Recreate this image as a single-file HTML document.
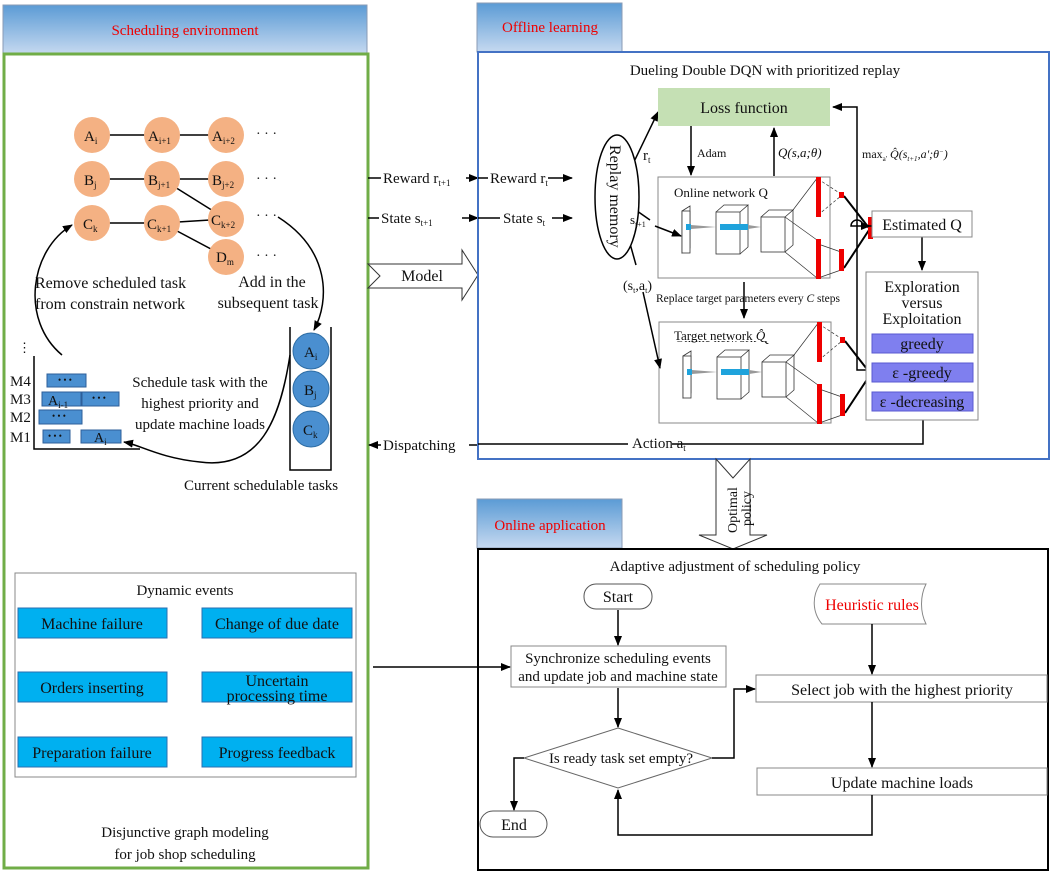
<!DOCTYPE html>
<html><head><meta charset="utf-8"><style>
body{margin:0;background:#fff}
svg text{font-family:"Liberation Serif",serif;fill:#111}
</style></head><body>
<svg width="1058" height="875" viewBox="0 0 1058 875" xmlns="http://www.w3.org/2000/svg">
<defs>
<linearGradient id="hg" x1="0" y1="0" x2="0" y2="1"><stop offset="0" stop-color="#5b9bd5"/><stop offset="1" stop-color="#c6d9f0"/></linearGradient>
<marker id="ar" markerWidth="10" markerHeight="8" refX="9" refY="4" orient="auto" markerUnits="userSpaceOnUse"><path d="M0,0 L10,4 L0,8 z" fill="#000"/></marker>
<g id="net">
<rect x="0" y="0" width="172" height="101" fill="#fff" stroke="#888"/>
<text x="16" y="20" font-size="13">Online network Q</text>
<path d="M24,34 l8,-5 v42 l-8,5 z" fill="#fff" stroke="#333" stroke-width="0.8"/><rect x="24" y="34" width="8" height="42" fill="#fff" stroke="#333" stroke-width="0.8"/>
<rect x="58" y="35" width="24" height="42" fill="#fff" stroke="#333" stroke-width="0.8"/><path d="M58,35 l8,-7 h24 l-8,7 M82,77 l8,-7 v-42" fill="none" stroke="#333" stroke-width="0.8"/>
<rect x="103" y="40" width="24" height="35" fill="#fff" stroke="#333" stroke-width="0.8"/><path d="M103,40 l8,-7 h24 l-8,7 M127,75 l8,-7 v-35" fill="none" stroke="#333" stroke-width="0.8"/>
<rect x="28" y="47" width="5" height="6" fill="#1fa3dc"/><path d="M33,48 L58,50 L33,52z" fill="#999"/>
<rect x="62" y="47" width="28" height="6" fill="#1fa3dc"/><path d="M90,48 L103,50 L90,52z" fill="#999"/>
<path d="M135,33 L160,0 M127,40 L159,63 M127,75 L159,101" stroke="#333" stroke-width="0.7" fill="none"/>
<path d="M160,2 L183,17 M160,38 L183,19" stroke="#333" stroke-width="0.7" stroke-dasharray="3,2" fill="none"/>
<path d="M163,68 L183,75 M163,100 L183,93" stroke="#333" stroke-width="0.7" fill="none"/>
<path d="M186,19 L211,51 M186,91 L211,53" stroke="#000" stroke-width="2" fill="none"/>
<rect x="158" y="0" width="5" height="40" fill="#e00"/><rect x="158" y="62" width="5" height="40" fill="#e00"/>
<rect x="181" y="15" width="5" height="6" fill="#e00"/><rect x="181" y="72" width="5" height="22" fill="#e00"/>
<rect x="210" y="40" width="5" height="22" fill="#e00"/>
</g>
</defs>

<!-- LEFT -->
<rect x="3" y="5" width="364" height="49" fill="url(#hg)" stroke="#8a9bb5"/>
<text x="185" y="35" font-size="15" text-anchor="middle" style="fill:#e00">Scheduling environment</text>
<rect x="4" y="54" width="364" height="814" fill="none" stroke="#70ad47" stroke-width="3"/>

<g stroke="#000" stroke-width="1.5" fill="none">
<path d="M92,135 H226 M92,179 H226 M162,179 L226,219 M92,223 H162 L226,219 M162,223 L226,257"/>
</g>
<g fill="#f4b183">
<circle cx="92" cy="135" r="18"/><circle cx="162" cy="135" r="18"/><circle cx="226" cy="135" r="18"/>
<circle cx="92" cy="179" r="18"/><circle cx="162" cy="179" r="18"/><circle cx="226" cy="179" r="18"/>
<circle cx="92" cy="223" r="18"/><circle cx="162" cy="223" r="18"/><circle cx="226" cy="219" r="18"/>
<circle cx="226" cy="257" r="18"/>
</g>
<g font-size="15">
<text x="84" y="141">A<tspan font-size="9" dy="3">i</tspan></text>
<text x="148" y="141">A<tspan font-size="9" dy="3">i+1</tspan></text>
<text x="212" y="141">A<tspan font-size="9" dy="3">i+2</tspan></text>
<text x="84" y="185">B<tspan font-size="9" dy="3">j</tspan></text>
<text x="148" y="185">B<tspan font-size="9" dy="3">j+1</tspan></text>
<text x="212" y="185">B<tspan font-size="9" dy="3">j+2</tspan></text>
<text x="83" y="229">C<tspan font-size="9" dy="3">k</tspan></text>
<text x="147" y="229">C<tspan font-size="9" dy="3">k+1</tspan></text>
<text x="211" y="225">C<tspan font-size="9" dy="3">k+2</tspan></text>
<text x="216" y="262">D<tspan font-size="9" dy="3">m</tspan></text>
</g>
<g font-size="14" style="fill:#f4a070"><text x="256" y="138">· · ·</text><text x="256" y="183">· · ·</text><text x="256" y="220">· · ·</text><text x="256" y="260">· · ·</text></g>
<g font-size="16"><text x="35" y="288">Remove scheduled task</text><text x="35" y="309">from constrain network</text>
<text x="272" y="287" text-anchor="middle">Add in the</text><text x="268" y="308" text-anchor="middle">subsequent task</text></g>
<g stroke="#000" stroke-width="1.5" fill="none">
<path d="M62,355 C20,320 30,250 72,225" marker-end="url(#ar)"/>
<path d="M278,217 C330,250 330,300 314,330" marker-end="url(#ar)"/>
<path d="M290,355 C280,420 260,470 200,462 C160,458 140,445 124,442" marker-end="url(#ar)"/>
<path d="M290,327 V470 H331 V327"/>
<path d="M34,356 V449 H140"/>
</g>
<g fill="#4a8fd0" stroke="#2e6da4"><circle cx="311" cy="351" r="18"/><circle cx="311" cy="389" r="18"/><circle cx="311" cy="429" r="18"/></g>
<g font-size="15"><text x="304" y="357">A<tspan font-size="9" dy="3">i</tspan></text><text x="304" y="395">B<tspan font-size="9" dy="3">j</tspan></text><text x="303" y="435">C<tspan font-size="9" dy="3">k</tspan></text></g>
<text x="184" y="490" font-size="15">Current schedulable tasks</text>
<text x="18" y="352" font-size="13">⋮</text>
<g font-size="15"><text x="10" y="386">M4</text><text x="10" y="404">M3</text><text x="10" y="422">M2</text><text x="10" y="442">M1</text></g>
<g fill="#4a8fd0" stroke="#2e5f9a"><rect x="47" y="374" width="39" height="13"/><rect x="42" y="392" width="39" height="14"/><rect x="82" y="392" width="37" height="14"/><rect x="39" y="410" width="43" height="14"/><rect x="43" y="430" width="27" height="13"/><rect x="81" y="430" width="40" height="13"/></g>
<g font-size="9" style="fill:#fff"><text x="58" y="383">• • •</text><text x="92" y="401">• • •</text><text x="52" y="419">• • •</text><text x="48" y="439">• • •</text></g>
<g font-size="14"><text x="48" y="405">A<tspan font-size="9" dy="3">i-1</tspan></text><text x="94" y="442">A<tspan font-size="9" dy="3">i</tspan></text></g>
<g font-size="15" text-anchor="middle"><text x="200" y="387">Schedule task with the</text><text x="200" y="408">highest priority and</text><text x="200" y="429">update machine loads</text></g>

<rect x="15" y="573" width="341" height="204" fill="#fff" stroke="#888"/>
<text x="185" y="595" font-size="15" text-anchor="middle">Dynamic events</text>
<g fill="#00b0f0" stroke="#2a6fb0"><rect x="18" y="608" width="149" height="30"/><rect x="202" y="608" width="150" height="30"/><rect x="18" y="672" width="149" height="30"/><rect x="202" y="672" width="150" height="30"/><rect x="18" y="737" width="149" height="30"/><rect x="202" y="737" width="150" height="30"/></g>
<g font-size="16" text-anchor="middle"><text x="92" y="629">Machine failure</text><text x="277" y="629">Change of due date</text><text x="92" y="693">Orders inserting</text><text x="277" y="686">Uncertain</text><text x="277" y="701">processing time</text><text x="92" y="758">Preparation failure</text><text x="277" y="758">Progress feedback</text></g>
<g font-size="15" text-anchor="middle"><text x="185" y="837">Disjunctive graph modeling</text><text x="185" y="859">for job shop scheduling</text></g>

<!-- middle connectors -->
<g stroke="#000" stroke-width="1.5" fill="none">
<path d="M368,178 H381"/><path d="M466,178 H478" marker-end="url(#ar)"/>
<path d="M368,218 H379"/><path d="M462,218 H478" marker-end="url(#ar)"/>
<path d="M478,445 H469"/><path d="M381,445 H369" marker-end="url(#ar)"/>
<path d="M373,667 H510" marker-end="url(#ar)"/>
</g>
<g font-size="15"><text x="383" y="183">Reward r<tspan font-size="9" dy="3">t+1</tspan></text><text x="381" y="223">State s<tspan font-size="9" dy="3">t+1</tspan></text><text x="383" y="450">Dispatching</text></g>
<path d="M368,264 H462 V250 L478,275 L462,300 V288 H368 L380,276 Z" fill="#fff" stroke="#333"/>
<text x="422" y="281" font-size="16" text-anchor="middle">Model</text>

<!-- OFFLINE -->
<rect x="477" y="3" width="145" height="49" fill="url(#hg)" stroke="#8a9bb5"/>
<text x="550" y="32" font-size="15" text-anchor="middle" style="fill:#e00">Offline learning</text>
<rect x="478" y="52" width="571" height="407" fill="none" stroke="#4472c4" stroke-width="2"/>
<text x="765" y="75" font-size="15" text-anchor="middle">Dueling Double DQN with prioritized replay</text>
<use href="#net" x="658" y="177"/>
<use href="#net" x="659" y="322"/>
<rect x="663" y="325" width="110" height="16" fill="#fff"/>
<text x="674" y="340" font-size="13">Target network <tspan font-style="italic">Q̂</tspan></text>
<g stroke="#000" stroke-width="1.5" fill="none">
<path d="M478,178 H488"/><path d="M548,178 H572" marker-end="url(#ar)"/>
<path d="M478,218 H500"/><path d="M552,218 H572" marker-end="url(#ar)"/>
<path d="M617,197 L658,112" marker-end="url(#ar)"/>
<path d="M617,197 L650,220" /><path d="M655,226 L681,236" marker-end="url(#ar)"/>
<path d="M617,197 L636,265"/><path d="M643,292 L660,368" marker-end="url(#ar)"/>
<path d="M691,126 V175" marker-end="url(#ar)"/>
<path d="M774,176 V128" marker-end="url(#ar)"/>
<path d="M744,282 V318" marker-end="url(#ar)"/>
<path d="M873,370 H857 V107 H833" marker-end="url(#ar)"/>
<path d="M873,226 H851 A6,6 0 0 1 863,226 H870" marker-end="url(#ar)"/>
<path d="M922,237 V270" marker-end="url(#ar)"/>
<path d="M923,420 V444 H672 M628,444 H478" />
</g>
<ellipse cx="617" cy="197" rx="22" ry="62" fill="#fff" stroke="#000" stroke-width="1.5"/>
<text transform="translate(610,145) rotate(90)" font-size="16">Replay memory</text>
<rect x="658" y="88" width="172" height="38" fill="#c5e0b4"/>
<text x="744" y="113" font-size="16" text-anchor="middle">Loss function</text>
<g font-size="13"><text x="697" y="157" font-size="12">Adam</text>
<text x="778" y="157" font-style="italic">Q(s,a;θ)</text>
<text x="862" y="158" font-size="12">max<tspan font-size="7" dy="3">a'</tspan><tspan dy="-3" font-style="italic"> Q̂(s<tspan font-size="7" dy="3">t+1</tspan><tspan dy="-3">,a';θ</tspan><tspan font-size="7" dy="-4">−</tspan><tspan dy="4">)</tspan></tspan></text>
<text x="643" y="160" font-size="15">r<tspan font-size="9" dy="3">t</tspan></text>
<text x="630" y="224" font-size="13">s<tspan font-size="8" dy="3">t+1</tspan></text>
<text x="623" y="290" font-size="14">(s<tspan font-size="8" dy="3">t</tspan><tspan dy="-3">,a</tspan><tspan font-size="8" dy="3">t</tspan><tspan dy="-3">)</tspan></text>
<text x="490" y="183" font-size="15">Reward r<tspan font-size="9" dy="3">t</tspan></text>
<text x="503" y="223" font-size="15">State s<tspan font-size="9" dy="3">t</tspan></text>
<text x="748" y="302" font-size="11.5" text-anchor="middle">Replace target parameters every <tspan font-style="italic">C</tspan> steps</text>
<text x="632" y="448" font-size="15">Action a<tspan font-size="9" dy="3">t</tspan></text>
</g>
<rect x="872" y="211" width="100" height="26" fill="#fff" stroke="#888"/>
<text x="922" y="230" font-size="16" text-anchor="middle">Estimated Q</text>
<rect x="866" y="272" width="112" height="148" fill="#fff" stroke="#888"/>
<g font-size="16" text-anchor="middle"><text x="922" y="292">Exploration</text><text x="922" y="308">versus</text><text x="922" y="324">Exploitation</text></g>
<g fill="#7f7fef" stroke="#5a5ad0"><rect x="872" y="334" width="101" height="19"/><rect x="872" y="363" width="101" height="19"/><rect x="872" y="392" width="101" height="19"/></g>
<g font-size="16" text-anchor="middle"><text x="922" y="349">greedy</text><text x="922" y="378">ε -greedy</text><text x="922" y="407">ε -decreasing</text></g>

<!-- optimal policy arrow -->
<path d="M716,459 L733,478 L750,459 H750 V535 H767 L733,549 L699,535 H716 Z" fill="#fff" stroke="#333"/>
<text transform="translate(737,533) rotate(-90)" font-size="14">Optimal</text>
<text transform="translate(751,526) rotate(-90)" font-size="14">policy</text>

<!-- ONLINE -->
<rect x="477" y="499" width="145" height="49" fill="url(#hg)" stroke="#8a9bb5"/>
<text x="550" y="530" font-size="15" text-anchor="middle" style="fill:#e00">Online application</text>
<rect x="478" y="549" width="570" height="321" fill="none" stroke="#000" stroke-width="2"/>
<text x="735" y="571" font-size="15" text-anchor="middle">Adaptive adjustment of scheduling policy</text>
<rect x="584" y="584" width="68" height="25" rx="12" fill="#fff" stroke="#555"/>
<text x="618" y="602" font-size="16" text-anchor="middle">Start</text>
<rect x="511" y="646" width="215" height="41" fill="#fff" stroke="#888"/>
<g font-size="15" text-anchor="middle"><text x="618" y="663">Synchronize scheduling events</text><text x="618" y="681">and update job and machine state</text></g>
<path d="M618,728 L712,758 L618,788 L524,758 Z" fill="#fff" stroke="#666"/>
<text x="621" y="763" font-size="15" text-anchor="middle">Is ready task set empty?</text>
<rect x="480" y="811" width="67" height="26" rx="13" fill="#fff" stroke="#555"/>
<text x="514" y="830" font-size="16" text-anchor="middle">End</text>
<path d="M820,584 H926 C920,596 920,612 926,624 H822 C812,612 812,596 820,584 Z" fill="#fff" stroke="#888"/>
<text x="872" y="610" font-size="16" text-anchor="middle" style="fill:#e00">Heuristic rules</text>
<rect x="756" y="675" width="291" height="27" fill="#fff" stroke="#888"/>
<text x="902" y="695" font-size="16" text-anchor="middle">Select job with the highest priority</text>
<rect x="757" y="768" width="290" height="27" fill="#fff" stroke="#888"/>
<text x="902" y="788" font-size="16" text-anchor="middle">Update machine loads</text>
<g stroke="#000" stroke-width="1.5" fill="none">
<path d="M618,610 V645" marker-end="url(#ar)"/>
<path d="M618,688 V727" marker-end="url(#ar)"/>
<path d="M712,758 H734 V689 H755" marker-end="url(#ar)"/>
<path d="M524,758 H514 V810" marker-end="url(#ar)"/>
<path d="M872,624 V674" marker-end="url(#ar)"/>
<path d="M872,702 V767" marker-end="url(#ar)"/>
<path d="M872,795 V835 H618 V790" marker-end="url(#ar)"/>
</g>
</svg>
</body></html>
